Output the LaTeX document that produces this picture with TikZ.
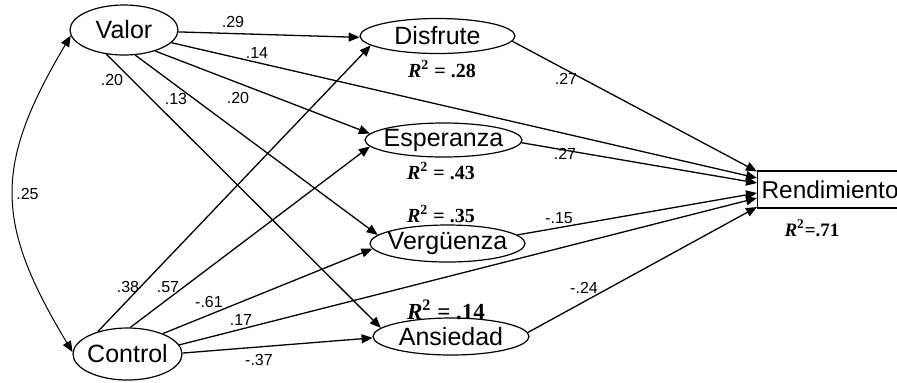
\documentclass[tikz,border=0pt]{standalone}
\usepackage{fontspec}
\setmainfont{Liberation Sans}
\newfontfamily\rsqfont{Liberation Serif}
\usetikzlibrary{shapes.geometric,arrows.meta}
\newcommand\rtwo{\textit{R}\textsuperscript{2}}
\begin{document}
\begin{tikzpicture}[x=0.5pt,y=-0.5pt,
  latent/.style={draw,ellipse,line width=0.6pt,inner xsep=-12pt,inner ysep=0pt,
    font=\fontsize{12.5}{14}\selectfont},
  observed/.style={draw,rectangle,line width=0.6pt,anchor=west,inner xsep=2pt,
    text width=70pt,align=left,minimum height=18.5pt,font=\fontsize{12.2}{14}\selectfont},
  effect/.style={line width=0.65pt,-{Triangle[length=5.5pt,width=4.5pt]}},
  covar/.style={line width=0.5pt,{Triangle[length=5.5pt,width=4.5pt]}-{Triangle[length=5.5pt,width=4.5pt]}},
  coef/.style={inner sep=0pt,font=\fontsize{8}{9}\selectfont},
  rsq/.style={inner sep=0pt,font=\rsqfont\bfseries\fontsize{10}{12}\selectfont}]
\useasboundingbox (0,0) rectangle (897,382);
\fill[white] (0,0) rectangle (897,382);

% latent variables and outcome
\node[latent,minimum width=54pt,minimum height=25pt] (valor) at (124,30) {Valor};
\node[latent,minimum width=54.5pt,minimum height=26pt] (control) at (127.5,354) {Control};
\node[latent,minimum width=77.5pt,minimum height=17.5pt] (disfrute) at (437.5,36) {Disfrute};
\node[latent,minimum width=78.5pt,minimum height=17pt] (esperanza) at (443.5,140) {Esperanza};
\node[latent,minimum width=77.5pt,minimum height=18.5pt] (verguenza) at (447.5,243.5) {Vergüenza};
\node[latent,minimum width=78pt,minimum height=18.5pt] (ansiedad) at (451,336.5) {Ansiedad};
\node[observed] (rend) at (757,189.5) {Rendimiento};

% paths from Valor
\draw[effect] (valor.-2) -- (disfrute.181);
\draw[effect] (valor.-15) -- ([yshift=5.75pt]rend.west);
\draw[effect] (valor.-34) -- (esperanza.175);
\draw[effect] (valor.-66) -- (verguenza.173);
\draw[effect] (valor.-126) -- (ansiedad.173);

% paths from Control
\draw[effect] (control.143) -- (disfrute.188);
\draw[effect] (control.84) -- (esperanza.185);
\draw[effect] (control.30) -- (verguenza.184);
\draw[effect] (control.10) -- ([yshift=-4.25pt]rend.west);
\draw[effect] (control.1) -- (ansiedad.181);

% paths from the emotions
\draw[effect] (disfrute.-4) -- ([yshift=9pt]rend.west);
\draw[effect] (esperanza.-2) -- ([yshift=3.25pt]rend.west);
\draw[effect] (verguenza.7) -- ([yshift=-1.75pt]rend.west);
\draw[effect] (ansiedad.3) -- ([yshift=-8.75pt]rend.west);

% covariance
\draw[covar] (valor.186) .. controls (-6,165) and (-6,222) .. (control.178);

% coefficients
\node[coef] (k29) at (233,22) {.29};
\node[coef] (k14) at (257,53) {.14};
\node[coef] (k20a) at (112,80) {.20};
\node[coef] (k13) at (176,98.5) {.13};
\node[coef] (k20b) at (238,98) {.20};
\node[coef] (k25) at (27.5,194) {.25};
\node[coef] (k38) at (128,287) {.38};
\node[coef] (k57) at (168,287) {.57};
\node[coef] (k61) at (209,302) {-.61};
\node[coef] (k17) at (241,320) {.17};
\node[coef] (k37) at (259,360) {-.37};
\node[coef] (k27a) at (566,79) {.27};
\node[coef] (k27b) at (565,154) {.27};
\node[coef] (k15) at (559,218) {-.15};
\node[coef] (k24) at (584,288) {-.24};

% explained variance
\node[rsq] (rd) at (442,69) {\rtwo{} = .28};
\node[rsq] (re) at (441,171) {\rtwo{} = .43};
\node[rsq] (rv) at (441,214) {\rtwo{} = .35};
\node[rsq,font=\rsqfont\bfseries\fontsize{11.5}{13}\selectfont] (ra) at (446,310) {\rtwo{} = .14};
\node[rsq,font=\rsqfont\bfseries\fontsize{9.5}{11}\selectfont] (rr) at (812,228) {\rtwo{}=.71};
\end{tikzpicture}
\end{document}
